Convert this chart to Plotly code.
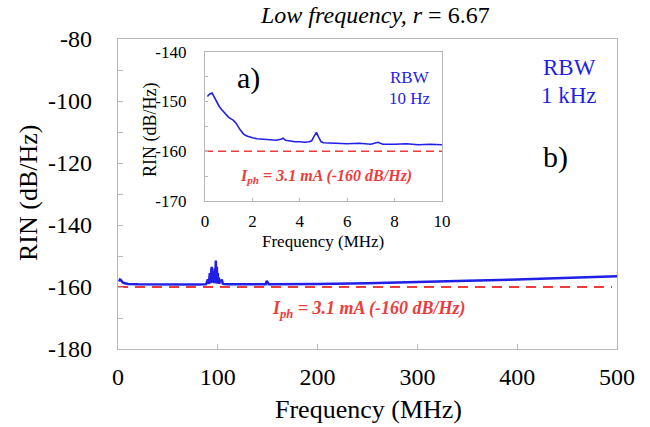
import plotly.graph_objects as go

# ---- main spectrum (RBW 1 kHz) ----
main_freq = [1, 2, 3, 4, 5, 7, 10, 20, 40, 60, 80, 88, 89, 90, 91, 92, 93, 93.5, 94, 94.5,
             95, 95.5, 96, 96.5, 97, 97.5, 98, 98.5, 99, 99.5, 100, 100.5, 101, 101.5, 102,
             103, 104, 105, 106, 110, 130, 148, 149, 150, 151, 152, 170, 200, 250, 300,
             350, 400, 450, 500]
main_rin = [-158.2, -157.6, -157.8, -158.3, -158.6, -158.8, -159.0, -159.1, -159.2, -159.2,
            -159.2, -159.1, -158.6, -157.5, -159.0, -155.5, -158.8, -154.5, -153.5, -158.5,
            -157.0, -155.0, -158.8, -156.5, -154.0, -158.7, -151.5, -158.9, -153.5, -158.5,
            -155.5, -158.8, -157.0, -159.0, -157.8, -158.3, -157.6, -158.9, -159.0, -159.1,
            -159.1, -159.1, -158.0, -158.6, -159.1, -159.1, -159.1, -159.0, -158.8, -158.5,
            -158.0, -157.6, -157.1, -156.5]

# ---- inset spectrum (RBW 10 Hz) ----
inset_freq = [0.1, 0.2, 0.3, 0.4, 0.5, 0.6, 0.7, 0.8, 0.9, 1.0, 1.1, 1.2, 1.3, 1.4, 1.5,
              1.6, 1.7, 1.8, 1.9, 2.0, 2.2, 2.4, 2.6, 2.8, 3.0, 3.2, 3.3, 3.4, 3.6, 3.8,
              4.0, 4.2, 4.4, 4.5, 4.6, 4.7, 4.8, 4.9, 5.0, 5.5, 6.0, 6.5, 7.0, 7.3, 7.5,
              8.0, 8.5, 9.0, 9.5, 10.0]
inset_rin = [-149.0, -148.5, -148.3, -149.2, -150.3, -151.0, -151.6, -152.2, -152.7, -153.2,
             -153.5, -153.8, -154.3, -155.1, -155.8, -156.4, -156.8, -157.0, -157.2, -157.3,
             -157.5, -157.6, -157.7, -157.8, -157.8, -157.6, -157.4, -157.8, -158.0, -158.1,
             -158.1, -158.2, -158.1, -157.9, -157.0, -156.2, -157.2, -158.1, -158.3, -158.4,
             -158.5, -158.4, -158.6, -158.2, -158.6, -158.6, -158.5, -158.7, -158.6, -158.7]

shot_level = -160
main_ref_x = [0, 495]
inset_ref_x = [0, 10]

# tick labels (plain hyphen minus as in the reference)
main_xticks = [0, 100, 200, 300, 400, 500]
main_yticks = [-180, -160, -140, -120, -100, -80]
main_yticktext = ["-180", "-160", "-140", "-120", "-100", "-80"]
inset_xticks = [0, 2, 4, 6, 8, 10]
inset_yticks = [-170, -160, -150, -140]
inset_yticktext = ["-170", "-160", "-150", "-140"]

BLUE = "#1f1fe6"
RED = "#ee3b3b"
GRID = "#b8b8b8"
SERIF = "Liberation Serif"

fig = go.Figure()
fig.add_trace(go.Scatter(x=main_freq, y=main_rin, mode="lines",
                         line=dict(color=BLUE, width=2.5), xaxis="x", yaxis="y"))
fig.add_trace(go.Scatter(x=main_ref_x, y=[shot_level] * 2, mode="lines",
                         line=dict(color=RED, width=2, dash="10px,7px"), xaxis="x", yaxis="y"))
fig.add_trace(go.Scatter(x=inset_freq, y=inset_rin, mode="lines",
                         line=dict(color=BLUE, width=1.6), xaxis="x2", yaxis="y2"))
fig.add_trace(go.Scatter(x=inset_ref_x, y=[shot_level] * 2, mode="lines",
                         line=dict(color=RED, width=1.6, dash="8px,5px"), xaxis="x2", yaxis="y2"))

ax_common = dict(showline=True, linecolor=GRID, linewidth=1.2, mirror=True,
                 showgrid=False, zeroline=False, ticks="inside", tickcolor=GRID)

ix0, ix1 = (205 - 118) / 499, (442 - 118) / 499
iy0, iy1 = (349 - 201) / 310, (349 - 51.7) / 310

fig.update_layout(
    width=650, height=427,
    margin=dict(l=118, r=33, t=39, b=78),
    paper_bgcolor="white", plot_bgcolor="white",
    showlegend=False,
    font=dict(family=SERIF, color="black"),
    xaxis=dict(**ax_common, range=[0, 500], tickmode="array", tickvals=main_xticks,
               ticklen=5, tickfont=dict(family=SERIF, size=24), ticklabelstandoff=6),
    yaxis=dict(**ax_common, range=[-180, -80], tickmode="array", tickvals=main_yticks,
               ticktext=main_yticktext, ticklen=5,
               tickfont=dict(family=SERIF, size=24), ticklabelstandoff=20,
               minor=dict(dtick=10, ticks="inside", ticklen=5, tickcolor=GRID)),
    xaxis2=dict(**ax_common, domain=[ix0, ix1], anchor="y2", range=[0, 10],
                tickmode="array", tickvals=inset_xticks,
                ticklen=3, tickfont=dict(family=SERIF, size=17), ticklabelstandoff=4),
    yaxis2=dict(**ax_common, domain=[iy0, iy1], anchor="x2", range=[-170, -140],
                tickmode="array", tickvals=inset_yticks, ticktext=inset_yticktext,
                ticklen=3, tickfont=dict(family=SERIF, size=17), ticklabelstandoff=14,
                minor=dict(dtick=5, ticks="inside", ticklen=3, tickcolor=GRID)),
)

def ann(text, x, y, size, color="black", angle=0):
    fig.add_annotation(text=text, x=(x - 118) / 499, y=(349 - y) / 310,
                       xref="paper", yref="paper", xanchor="center", yanchor="middle",
                       showarrow=False, textangle=angle,
                       font=dict(family=SERIF, size=size, color=color))

ann("<i>Low frequency, r</i> = 6.67", 375, 15, 24)
ann("Frequency (MHz)", 368, 409, 26)
ann("RIN (dB/Hz)", 28, 193, 26, angle=-90)
ann("RBW", 569, 67, 23, BLUE)
ann("1 kHz", 569, 95, 23, BLUE)
ann("b)", 555, 157, 30)
ann("<b><i>I<sub>ph</sub> = 3.1 mA (-160 dB/Hz)</i></b>", 369, 309, 18, RED)

ann("a)", 248, 78, 30)
ann("RBW", 410, 77, 17, BLUE)
ann("10 Hz", 410, 98, 17, BLUE)
ann("<b><i>I<sub>ph</sub> = 3.1 mA (-160 dB/Hz)</i></b>", 326, 176, 16, RED)
ann("Frequency (MHz)", 323, 241, 17)
ann("RIN (dB/Hz)", 150, 130, 18, angle=-90)

fig.write_html("out.html", config={"displayModeBar": False},
               post_script="document.body.style.margin='0';")
